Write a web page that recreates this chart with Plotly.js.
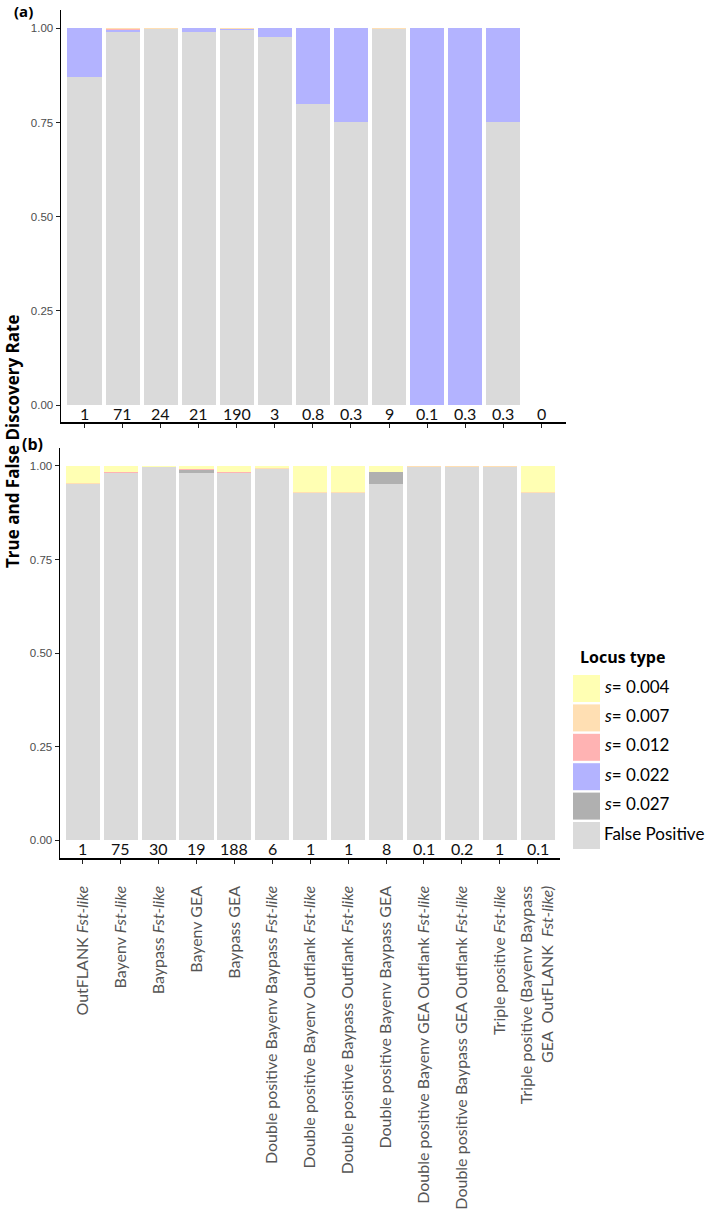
<!DOCTYPE html>
<html>
<head>
<meta charset="utf-8">
<script src="https://cdn.plot.ly/plotly-3.0.1.min.js"></script>
<style>html,body{margin:0;padding:0;background:#fff;}#chart{width:709px;height:1210px;}</style>
</head>
<body>
<div id="chart"></div>
<script>
// ---- data ----
var categories = [
  "OutFLANK Fst-like", "Bayenv Fst-like", "Baypass Fst-like", "Bayenv GEA", "Baypass GEA",
  "Double positive Bayenv Baypass Fst-like", "Double positive Bayenv Outflank Fst-like",
  "Double positive Baypass Outflank Fst-like", "Double positive Bayenv Baypass GEA",
  "Double positive Bayenv GEA Outflank Fst-like", "Double positive Baypass GEA Outflank Fst-like",
  "Triple positive Fst-like", "Triple positive (Bayenv Baypass GEA OutFLANK Fst-like)"
];
var tickLabels = [
  "OutFLANK <i>Fst-like</i>", "Bayenv <i>Fst-like</i>", "Baypass <i>Fst-like</i>", "Bayenv GEA", "Baypass GEA",
  "Double positive Bayenv Baypass <i>Fst-like</i>", "Double positive Bayenv Outflank <i>Fst-like</i>",
  "Double positive Baypass Outflank <i>Fst-like</i>", "Double positive Bayenv Baypass GEA",
  "Double positive Bayenv GEA Outflank <i>Fst-like</i>", "Double positive Baypass GEA Outflank <i>Fst-like</i>",
  "Triple positive <i>Fst-like</i>", "Triple positive (Bayenv Baypass<br>GEA  OutFLANK  <i>Fst-like)</i>"
];
var seriesNames = ["False Positive", "s= 0.027", "s= 0.022", "s= 0.012", "s= 0.007", "s= 0.004"];
var legendLabels = ["<i>s</i>= 0.004", "<i>s</i>= 0.007", "<i>s</i>= 0.012", "<i>s</i>= 0.022", "<i>s</i>= 0.027", "False Positive"];

// panel (a)
var aFalsePos = [0.870, 0.991, 0.997, 0.991, 0.995, 0.978, 0.800, 0.750, 0.998, 0, 0, 0.750, 0];
var aS027     = [0, 0, 0, 0, 0, 0, 0, 0, 0, 0, 0, 0, 0];
var aS022     = [0.130, 0.004, 0.002, 0.009, 0.002, 0.022, 0.200, 0.250, 0, 1, 1, 0.250, 0];
var aS012     = [0, 0.003, 0, 0, 0, 0, 0, 0, 0, 0, 0, 0, 0];
var aS007     = [0, 0.002, 0.001, 0, 0.003, 0, 0, 0, 0.002, 0, 0, 0, 0];
var aS004     = [0, 0, 0, 0, 0, 0, 0, 0, 0, 0, 0, 0, 0];
var aCounts   = ["1", "71", "24", "21", "190", "3", "0.8", "0.3", "9", "0.1", "0.3", "0.3", "0"];

// panel (b)
var bFalsePos = [0.952, 0.982, 0.996, 0.981, 0.982, 0.993, 0.928, 0.928, 0.951, 0.998, 0.998, 0.998, 0.929];
var bS027     = [0, 0, 0, 0.008, 0, 0, 0, 0, 0.034, 0, 0, 0, 0];
var bS022     = [0, 0, 0, 0, 0, 0, 0, 0, 0, 0, 0, 0, 0];
var bS012     = [0, 0.003, 0, 0.003, 0.003, 0, 0, 0, 0, 0, 0, 0, 0];
var bS007     = [0.002, 0, 0.001, 0, 0, 0.002, 0.002, 0.002, 0, 0.002, 0.002, 0.002, 0.002];
var bS004     = [0.046, 0.015, 0.003, 0.008, 0.015, 0.005, 0.070, 0.070, 0.015, 0, 0, 0, 0.069];
var bCounts   = ["1", "75", "30", "19", "188", "6", "1", "1", "8", "0.1", "0.2", "1", "0.1"];

// ---- styles ----
var colors = {
  "False Positive": "#DADADA",
  "s= 0.027": "#B0B0B0",
  "s= 0.022": "#B3B3FF",
  "s= 0.012": "#FFB3B3",
  "s= 0.007": "#FFDFB3",
  "s= 0.004": "#FFFFB3"
};
var legendColors = ["#FFFFB3", "#FFDFB3", "#FFB3B3", "#B3B3FF", "#B0B0B0", "#DADADA"];

var W = 709, H = 1210;
function px(x) { return x / W; }
function py(y) { return 1 - y / H; }

var aSeries = [aFalsePos, aS027, aS022, aS012, aS007, aS004];
var bSeries = [bFalsePos, bS027, bS022, bS012, bS007, bS004];

var traces = [];
seriesNames.forEach(function (name, i) {
  traces.push({type: "bar", name: name, x: categories, y: aSeries[i], xaxis: "x", yaxis: "y",
    marker: {color: colors[name], line: {width: 0}}, width: 0.9, showlegend: false});
});
seriesNames.forEach(function (name, i) {
  traces.push({type: "bar", name: name, x: categories, y: bSeries[i], xaxis: "x2", yaxis: "y2",
    marker: {color: colors[name], line: {width: 0}}, width: 0.9, showlegend: false});
});

var annotations = [];
categories.forEach(function (c, i) {
  annotations.push({x: c, y: -0.022, xref: "x", yref: "y", text: aCounts[i], showarrow: false,
    font: {family: "Lato", size: 16, color: "#111"}, xanchor: "center", yanchor: "middle"});
  annotations.push({x: c, y: -0.022, xref: "x2", yref: "y2", text: bCounts[i], showarrow: false,
    font: {family: "Lato", size: 16, color: "#111"}, xanchor: "center", yanchor: "middle"});
});
annotations.push({x: px(23), y: py(11), xref: "paper", yref: "paper", text: "<b>(a)</b>", showarrow: false,
  font: {family: "Open Sans", size: 15, color: "#000"}, xanchor: "center", yanchor: "middle"});
annotations.push({x: px(32), y: py(444), xref: "paper", yref: "paper", text: "<b>(b)</b>", showarrow: false,
  font: {family: "Open Sans", size: 16, color: "#000"}, xanchor: "center", yanchor: "middle"});
annotations.push({x: px(12), y: py(442), xref: "paper", yref: "paper", text: "<b>True and False Discovery Rate</b>",
  showarrow: false, textangle: -90, font: {family: "Open Sans", size: 17, color: "#000"},
  xanchor: "center", yanchor: "middle"});

// legend (drawn)
var shapes = [];
annotations.push({x: px(578), y: py(657), xref: "paper", yref: "paper", text: "<b>Locus type</b>", showarrow: false,
  font: {family: "Open Sans", size: 16, color: "#000"}, xanchor: "left", yanchor: "middle"});
legendLabels.forEach(function (lab, i) {
  var top = 675 + i * 29.4;
  shapes.push({type: "rect", xref: "paper", yref: "paper", x0: px(573), x1: px(600), y0: py(top + 27), y1: py(top),
    fillcolor: legendColors[i], line: {width: 0}});
  annotations.push({x: px(602), y: py(top + 11), xref: "paper", yref: "paper", text: lab, showarrow: false,
    font: {family: "Lato", size: 17, color: "#000"}, xanchor: "left", yanchor: "middle"});
});

var yAxisCommon = {
  tickvals: [0, 0.25, 0.5, 0.75, 1], ticktext: ["0.00", "0.25", "0.50", "0.75", "1.00"],
  ticks: "outside", ticklen: 4, tickwidth: 1, tickcolor: "#222",
  showline: true, linecolor: "#000", linewidth: 1.5, showgrid: false, zeroline: false,
  tickfont: {family: "Liberation Sans, Arial", size: 11.5, color: "#4D4D4D"}, automargin: false, fixedrange: true
};
var xAxisCommon = {
  type: "category", ticks: "outside", ticklen: 4, tickwidth: 1, tickcolor: "#222",
  showline: true, linecolor: "#000", linewidth: 1.5, showgrid: false, zeroline: false,
  tickmode: "array", tickvals: categories, ticktext: tickLabels, automargin: false, fixedrange: true
};

var layout = {
  width: W, height: H,
  margin: {l: 0, r: 0, t: 0, b: 0},
  paper_bgcolor: "#fff", plot_bgcolor: "#fff",
  barmode: "stack", bargap: 0.1,
  showlegend: false,
  xaxis: Object.assign({}, xAxisCommon, {domain: [px(61), px(566)], range: [-0.62, 12.65], anchor: "y",
    showticklabels: false}),
  yaxis: Object.assign({}, yAxisCommon, {domain: [py(422), py(10)], range: [-0.045, 1.0485], anchor: "x"}),
  xaxis2: Object.assign({}, xAxisCommon, {domain: [px(60), px(560)], range: [-0.6, 12.59], anchor: "y2",
    showticklabels: true, tickangle: -90, ticklabelstandoff: 16,
    tickfont: {family: "Lato", size: 16, color: "#555"}}),
  yaxis2: Object.assign({}, yAxisCommon, {domain: [py(858), py(448)], range: [-0.048, 1.048], anchor: "x2"}),
  annotations: annotations,
  shapes: shapes
};

Plotly.newPlot("chart", traces, layout, {displayModeBar: false, staticPlot: true});
</script>
</body>
</html>
